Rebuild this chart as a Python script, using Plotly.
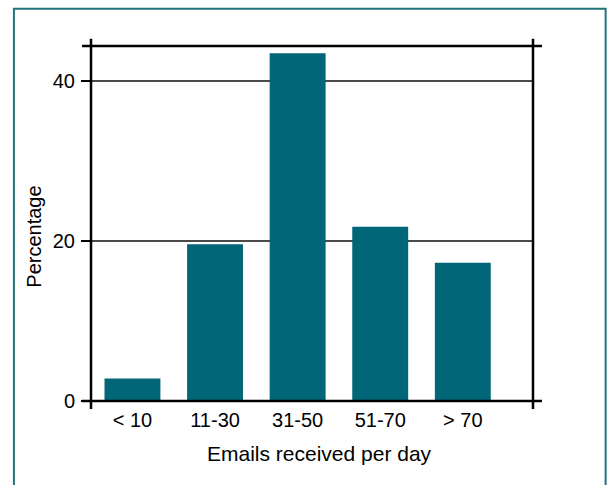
import plotly.graph_objects as go

categories = ["< 10", "11-30", "31-50", "51-70", "> 70"]
percentages = [2.8, 19.6, 43.5, 21.8, 17.3]
y_ticks = [0, 20, 40]
x_title = "Emails received per day"
y_title = "Percentage"

FONT = "Liberation Sans, Arial, Helvetica, sans-serif"
BAR = "#006678"
TXT = "#000000"

fig = go.Figure()
fig.add_trace(go.Bar(
    x=list(range(len(categories))),
    y=percentages,
    width=0.677,
    marker=dict(color=BAR, line=dict(width=0)),
    hoverinfo="skip",
))

fig.update_layout(
    width=610, height=485,
    margin=dict(l=91, r=77, t=46, b=84),
    paper_bgcolor="white",
    plot_bgcolor="white",
    showlegend=False,
    font=dict(family=FONT, size=20, color=TXT),
    xaxis=dict(
        range=[-0.502, 4.85],
        tickmode="array",
        tickvals=list(range(len(categories))),
        ticktext=categories,
        showgrid=False, zeroline=False, showline=False,
        ticks="", ticklabelstandoff=5,
        tickfont=dict(family=FONT, size=20, color=TXT),
        fixedrange=True,
    ),
    yaxis=dict(
        range=[0, 44.4],
        tickmode="array",
        tickvals=y_ticks,
        ticktext=[str(v) for v in y_ticks],
        showgrid=True, gridcolor="#4a4a4a", gridwidth=1.5,
        zeroline=False, showline=False,
        ticks="outside", ticklen=9, tickwidth=2, tickcolor="#000000",
        ticklabelstandoff=2,
        tickfont=dict(family=FONT, size=20, color=TXT),
        fixedrange=True,
    ),
    annotations=[
        dict(text=x_title, xref="paper", yref="paper", x=0.516, y=-0.147,
             xanchor="center", yanchor="middle", showarrow=False,
             font=dict(family=FONT, size=21, color=TXT)),
        dict(text=y_title, xref="paper", yref="paper", x=-0.128, y=0.464,
             xanchor="center", yanchor="middle", showarrow=False, textangle=-90,
             font=dict(family=FONT, size=20, color=TXT)),
    ],
)

# frame with overshooting corners
ox = 9 / 442.6
oy = 8 / 355
frame = dict(color="#000000", width=2.5)
shapes = [
    dict(type="line", xref="paper", yref="paper", x0=-ox, x1=1 + ox, y0=1, y1=1, line=frame),
    dict(type="line", xref="paper", yref="paper", x0=-ox, x1=1 + ox, y0=0, y1=0, line=frame),
    dict(type="line", xref="paper", yref="paper", x0=0, x1=0, y0=-oy, y1=1 + oy * 0.9, line=frame),
    dict(type="line", xref="paper", yref="paper", x0=1, x1=1, y0=-oy, y1=1 + oy * 0.9, line=frame),
    # outer teal border (open at bottom, runs off the page)
    dict(type="path", xref="paper", yref="paper",
         path="M {:.4f},{:.4f} L {:.4f},{:.4f} L {:.4f},{:.4f} L {:.4f},{:.4f}".format(
             (13.5 - 90.7) / 442.6, (400.7 - 490) / 355,
             (13.5 - 90.7) / 442.6, (400.7 - 8.5) / 355,
             (606 - 90.7) / 442.6, (400.7 - 8.5) / 355,
             (606 - 90.7) / 442.6, (400.7 - 490) / 355),
         line=dict(color="#21727a", width=2)),
]
fig.update_layout(shapes=shapes)

fig.write_html("out.html")
